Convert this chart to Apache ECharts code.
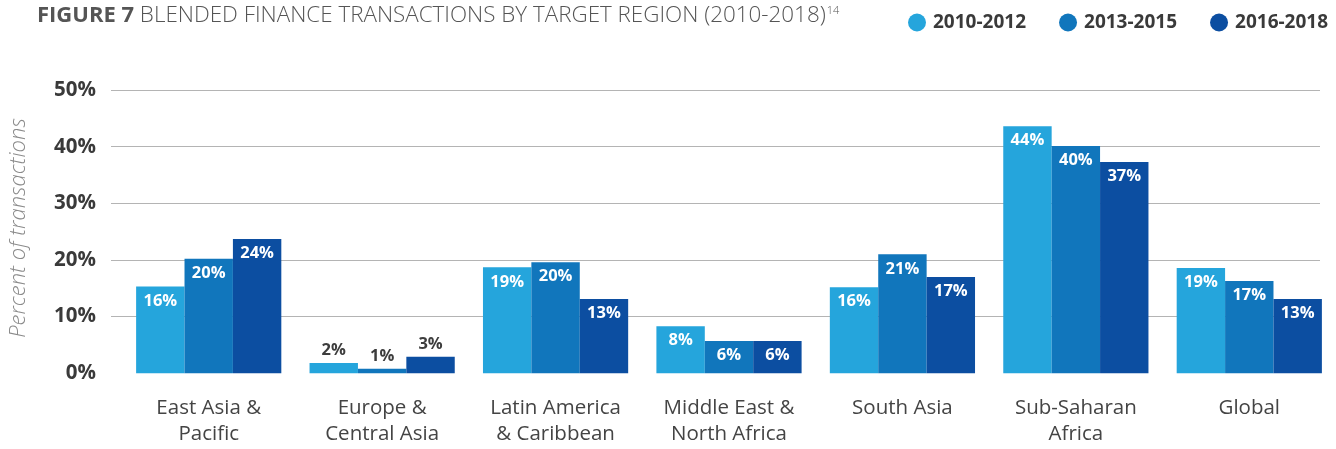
<!DOCTYPE html>
<html><head><meta charset="utf-8">
<script src="https://cdn.jsdelivr.net/npm/echarts@6/dist/echarts.min.js"></script>
<style>html,body{margin:0;padding:0;background:#fff}#c{width:1336px;height:449px}</style>
</head><body><div id="c"></div>
<script>
const categories = ['East Asia &\nPacific','Europe &\nCentral Asia','Latin America\n& Caribbean','Middle East &\nNorth Africa','South Asia','Sub-Saharan\nAfrica','Global'];
const seriesNames = ['2010-2012','2013-2015','2016-2018'];
const v2010 = [15.3, 1.8, 18.7, 8.3, 15.2, 43.6, 18.6];
const v2013 = [20.2, 0.8, 19.6, 5.7, 21.0, 40.1, 16.3];
const v2016 = [23.7, 2.9, 13.1, 5.7, 17.0, 37.3, 13.1];
const lab2010 = ['16%','2%','19%','8%','16%','44%','19%'];
const lab2013 = ['20%','1%','20%','6%','21%','40%','17%'];
const lab2016 = ['24%','3%','13%','6%','17%','37%','13%'];
const yTicks = [0,10,20,30,40,50];
const colors = ['#25a5dc','#1176bc','#0c4ea1'];
const FONT = '"Open Sans", sans-serif';

const chart = echarts.init(document.getElementById('c'), null, {renderer:'canvas'});
const values = [v2010, v2013, v2016];
const labels = [lab2010, lab2013, lab2016];
function mkSeries(i){
  return {
    name: seriesNames[i], type:'bar', xAxisIndex:1, yAxisIndex:1,
    barWidth: 48.4, barGap: '0%', itemStyle:{color:colors[i]},
    data: values[i].map((v,k)=>{
      const small = v < 5;
      return {value:v, label:{
        show:true, formatter: labels[i][k],
        position: small ? 'top' : 'insideTop',
        distance: small ? 4 : 6,
        color: small ? '#3d3d3d' : '#ffffff',
        fontFamily: FONT, fontWeight:'bold', fontSize:16.5
      }};
    })
  };
}
chart.setOption({
  animation:false,
  textStyle:{fontFamily:FONT},
  grid:[
    {left:111, right:16, top:90, bottom:75.7, containLabel:false},
    {left:122, right:0, top:90, bottom:75.7, containLabel:false}
  ],
  xAxis:[
    {gridIndex:0, type:'value', show:false, min:0, max:1},
    {gridIndex:1, type:'category', data:categories,
      axisLine:{show:false}, axisTick:{show:false},
      axisLabel:{interval:0, margin:22, color:'#444', fontFamily:FONT, fontSize:20.5, lineHeight:26}}
  ],
  yAxis:[
    {gridIndex:0, type:'value', min:yTicks[0], max:yTicks[yTicks.length-1], interval:10,
      axisLine:{show:false}, axisTick:{show:false},
      axisLabel:{formatter:'{value}%', margin:15, color:'#3a3a3a', fontFamily:FONT, fontWeight:'bold', fontSize:20.5},
      splitLine:{show:true, showMinLine:false, lineStyle:{color:'#b4b4b4', width:1.2}}},
    {gridIndex:1, type:'value', min:0, max:50, interval:10, show:false, splitLine:{show:false}}
  ],
  legend:{
    left:903, top:8, itemWidth:18, itemHeight:18, itemGap:33, icon:'circle',
    data:seriesNames,
    textStyle:{color:'#3a3a3a', fontFamily:FONT, fontWeight:'bold', fontSize:19, padding:[0,0,0,2]}
  },
  graphic:[
    {type:'text', x:37, y:16, style:{
      text:'{b|FIGURE 7} BLENDED FINANCE TRANSACTIONS BY TARGET REGION (2010-2018){s|14}',
      fill:'#555', font:'300 22.4px "Open Sans", sans-serif', verticalAlign:'middle',
      rich:{
        b:{fontWeight:'bold', fontSize:22, fill:'#555', fontFamily:FONT},
        s:{fontSize:11, fill:'#555', fontFamily:FONT, fontWeight:300, padding:[0,0,11,1]}
      }}},
    {type:'text', x:18.5, y:228, rotation:Math.PI/2, style:{
      text:'Percent of transactions', fill:'#8a8a8a', align:'center', verticalAlign:'middle',
      font:'italic 300 22px "Open Sans", sans-serif'}}
  ],
  series:[mkSeries(0), mkSeries(1), mkSeries(2), {type:'line', xAxisIndex:0, yAxisIndex:0, data:[], silent:true}]
});
</script></body></html>
